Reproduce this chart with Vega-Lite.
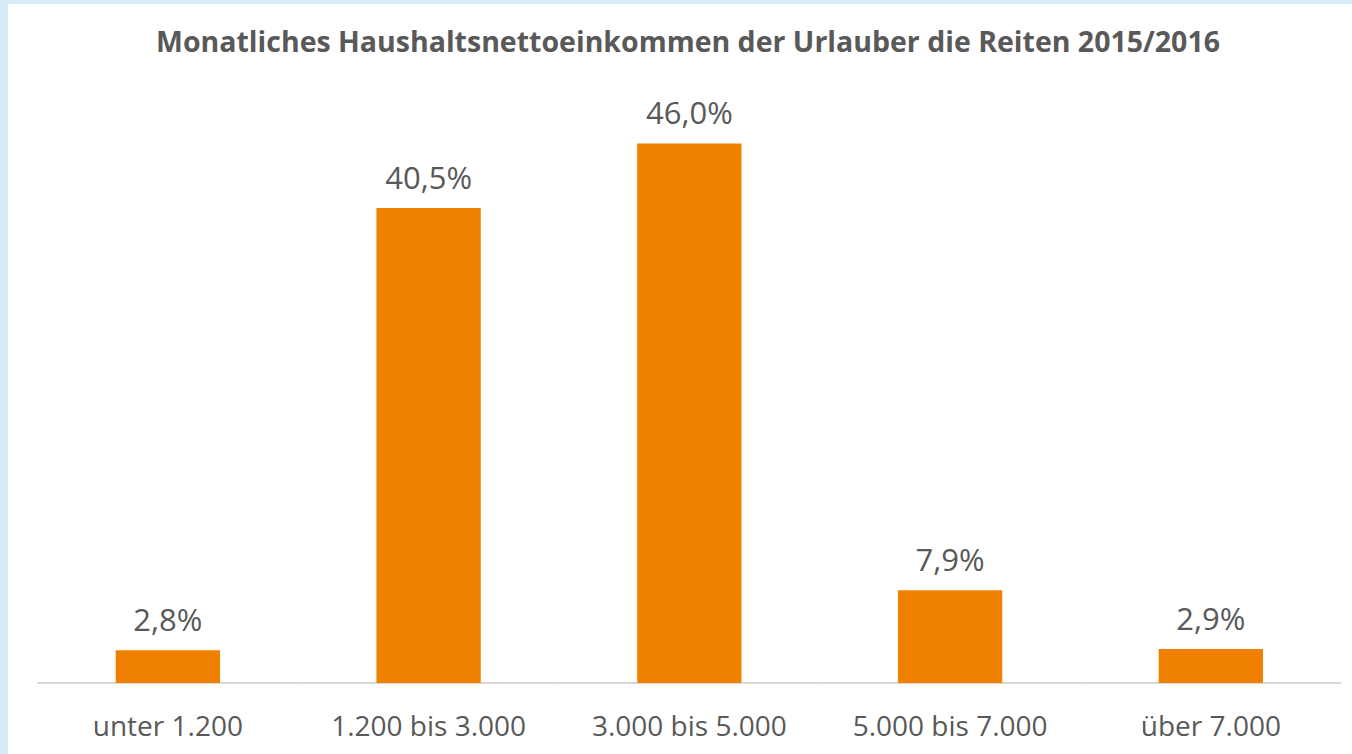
{
  "$schema": "https://vega.github.io/schema/vega-lite/v6.json",
  "width": 1344,
  "height": 750,
  "autosize": {"type": "none"},
  "padding": {"left": 8, "top": 4, "right": 0, "bottom": 0},
  "background": "#d6ecf8",
  "config": {
    "view": {"fill": "#ffffff", "stroke": null},
    "font": "Open Sans"
  },
  "title": {
    "text": "Monatliches Haushaltsnettoeinkommen der Urlauber die Reiten 2015/2016",
    "font": "Open Sans",
    "fontSize": 28.5,
    "fontWeight": "bold",
    "color": "#595959",
    "anchor": "middle",
    "baseline": "alphabetic",
    "offset": -76,
    "dx": 8
  },
  "data": {
    "values": [
      {"kategorie": "unter 1.200", "anteil": 2.8, "label": "2,8%"},
      {"kategorie": "1.200 bis 3.000", "anteil": 40.5, "label": "40,5%"},
      {"kategorie": "3.000 bis 5.000", "anteil": 46.0, "label": "46,0%"},
      {"kategorie": "5.000 bis 7.000", "anteil": 7.9, "label": "7,9%"},
      {"kategorie": "über 7.000", "anteil": 2.9, "label": "2,9%"}
    ]
  },
  "encoding": {
    "x": {
      "field": "kategorie",
      "type": "nominal",
      "sort": null,
      "scale": {"paddingInner": 0.6, "paddingOuter": 0.3772, "align": 0.5475},
      "axis": {
        "title": null,
        "orient": "bottom",
        "offset": -71,
        "domain": false,
        "ticks": false,
        "tickSize": 0,
        "labelAngle": 0,
        "labelFont": "Open Sans",
        "labelFontSize": 28,
        "labelColor": "#595959",
        "labelBaseline": "alphabetic",
        "labelPadding": 52,
        "labelLimit": 0,
        "labelOverlap": false,
        "grid": false
      }
    },
    "y": {
      "field": "anteil",
      "type": "quantitative",
      "scale": {"domain": [-6.05, 57.89], "nice": false, "zero": false},
      "axis": null
    }
  },
  "layer": [
    {
      "mark": {"type": "rule", "color": "#d9d9d9", "strokeWidth": 2},
      "encoding": {
        "x": {"field": "kategorie", "type": "nominal", "sort": null, "bandPosition": -0.75},
        "x2": {"field": "kategorie", "bandPosition": 1.75},
        "y": {"datum": 0}
      }
    },
    {
      "mark": {"type": "bar", "color": "#f08000"},
      "encoding": {"y2": {"datum": 0}}
    },
    {
      "mark": {
        "type": "text",
        "baseline": "alphabetic",
        "align": "center",
        "dy": -19,
        "font": "Open Sans",
        "fontSize": 31,
        "color": "#595959"
      },
      "encoding": {"text": {"field": "label"}}
    }
  ]
}
